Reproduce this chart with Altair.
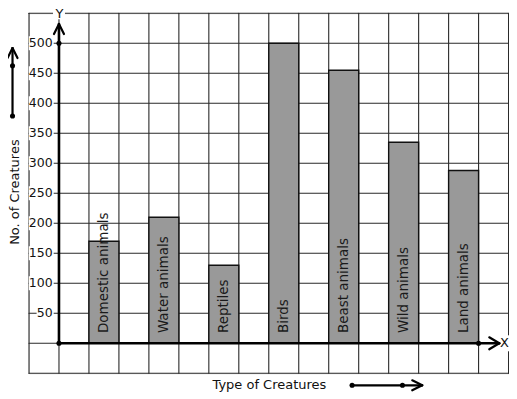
import altair as alt
import pandas as pd

# ---- data ----
categories = ["Domestic animals", "Water animals", "Reptiles", "Birds",
              "Beast animals", "Wild animals", "Land animals"]
counts = [170, 210, 130, 500, 455, 335, 288]
slots = [1, 3, 5, 7, 9, 11, 13]          # left edge of each bar on the grid
y_tick_values = [500, 450, 400, 350, 300, 250, 200, 150, 100, 50]
y_tick_labels = ["500", "450", "400", "350", "300", "250", "200", "150", "100", "50"]
x_grid = list(range(-1, 16))
y_grid = list(range(-50, 551, 50))

FONT = "DejaVu Sans"
XS = alt.Scale(domain=[-1, 15.015], nice=False, zero=False)
YS = alt.Scale(domain=[-50, 550], nice=False, zero=False)
PX = 1 / 30.0        # one pixel in x data units
PY = 50 / 30.0       # one pixel in y data units


def X(f="x"):
    return alt.X(f"{f}:Q", scale=XS, axis=None)


def Y(f="y"):
    return alt.Y(f"{f}:Q", scale=YS, axis=None)


def rules(rows, width, color="#222222"):
    return alt.Chart(pd.DataFrame(rows, columns=["x", "y", "x2", "y2"])).mark_rule(
        color=color, strokeWidth=width, strokeCap="round").encode(
        x=X(), y=Y(), x2="x2:Q", y2="y2:Q")


# grid
grid_rows = [[gx, -50, gx, 550] for gx in x_grid] + [[-1, gy, 15, gy] for gy in y_grid]
grid = rules(grid_rows, 1.1, "#2a2a2a")

XL = 14.86  # "X" label position
# white backgrounds behind labels
bg_rows = []
for v, t in zip(y_tick_values, y_tick_labels):
    w = (len(t) * 7.8 + 0.5) * PX
    bg_rows.append([-0.21 - w, v - 7 * PY, -0.21 + 1 * PX, v + 7 * PY])
bg_rows.append([-6 * PX, 540, 6 * PX, 565])             # "Y"
bg_rows.append([XL - 6 * PX, -8 * PY, 15.1, 8 * PY])  # "X"
bg = alt.Chart(pd.DataFrame(bg_rows, columns=["x", "y", "x2", "y2"])).mark_rect(
    color="white").encode(x=X(), y=Y(), x2="x2:Q", y2="y2:Q")

# bars
bars_df = pd.DataFrame({"cat": categories, "count": counts, "x0": slots,
                        "x1": [s + 1 for s in slots], "base": [0] * len(slots)})
bars = alt.Chart(bars_df).mark_rect(fill="#999999", stroke="#111111", strokeWidth=1.4).encode(
    x=X("x0"), x2="x1:Q", y=Y("base"), y2="count:Q")
bar_text = alt.Chart(bars_df).transform_calculate(
    xc="datum.x0 + 0.5", yb="17").mark_text(
    angle=270, align="left", baseline="middle", font=FONT, fontSize=13.5, color="#1a1a1a").encode(
    x=X("xc"), y=Y("yb"), text="cat:N")

# axes with arrows
y_tip = 532
x_tip = 14.69
LX = -1.55
BY = -70
axes = rules([[0, 0, 0, y_tip], [0, 0, x_tip, 0]], 2.6, "black")
heads = rules([
    [0, y_tip, -5 * PX, y_tip - 10 * PY], [0, y_tip, 5 * PX, y_tip - 10 * PY],
    [x_tip, 0, x_tip - 10 * PX, 6 * PY], [x_tip, 0, x_tip - 10 * PX, -6 * PY],
    # left arrow
    [LX, 378.8, LX, 492],
    [LX, 492, LX - 5 * PX, 492 - 10 * PY], [LX, 492, LX + 5 * PX, 492 - 10 * PY],
    # bottom arrow
    [9.78, BY, 12.12, BY],
    [12.12, BY, 12.12 - 10 * PX, BY + 5 * PY], [12.12, BY, 12.12 - 10 * PX, BY - 5 * PY],
], 2.2, "black")
dots = alt.Chart(pd.DataFrame({"x": [0, 0, 14, LX, LX, 9.78, 11.46],
                               "y": [0, 500, 0, 378.8, 462.7, BY, BY]})).mark_circle(
    color="black", size=26, opacity=1).encode(x=X(), y=Y())

# tick labels
ticks = alt.Chart(pd.DataFrame({"v": y_tick_values, "t": y_tick_labels, "x": [-0.21] * 10})).mark_text(
    align="right", baseline="middle", font=FONT, fontSize=12.5, color="#111111").encode(
    x=X(), y=Y("v"), text="t:N")

# other texts
texts = alt.Chart(pd.DataFrame({
    "t": ["Y", "X", "Type of Creatures"],
    "x": [0.02, XL, 7.02],
    "y": [549, 0, BY + 1]})).mark_text(
    align="center", baseline="middle", font=FONT, fontSize=13, color="#111111").encode(
    x=X(), y=Y(), text="t:N")
ytitle = alt.Chart(pd.DataFrame({"t": ["No. of Creatures"], "x": [-1.47], "y": [252]})).mark_text(
    angle=270, align="center", baseline="middle", font=FONT, fontSize=13, color="#111111").encode(
    x=X(), y=Y(), text="t:N")

chart = alt.layer(grid, bg, bars, bar_text, axes, heads, dots, ticks, texts, ytitle).properties(
    width=480, height=360,
    autosize=alt.AutoSizeParams(type="none"),
    padding={"left": 21, "top": 5.3, "right": 0, "bottom": 19.5},
).configure_view(stroke=None).configure(background="white")

chart.save("out.html", embed_options={"renderer": "svg", "actions": False})
